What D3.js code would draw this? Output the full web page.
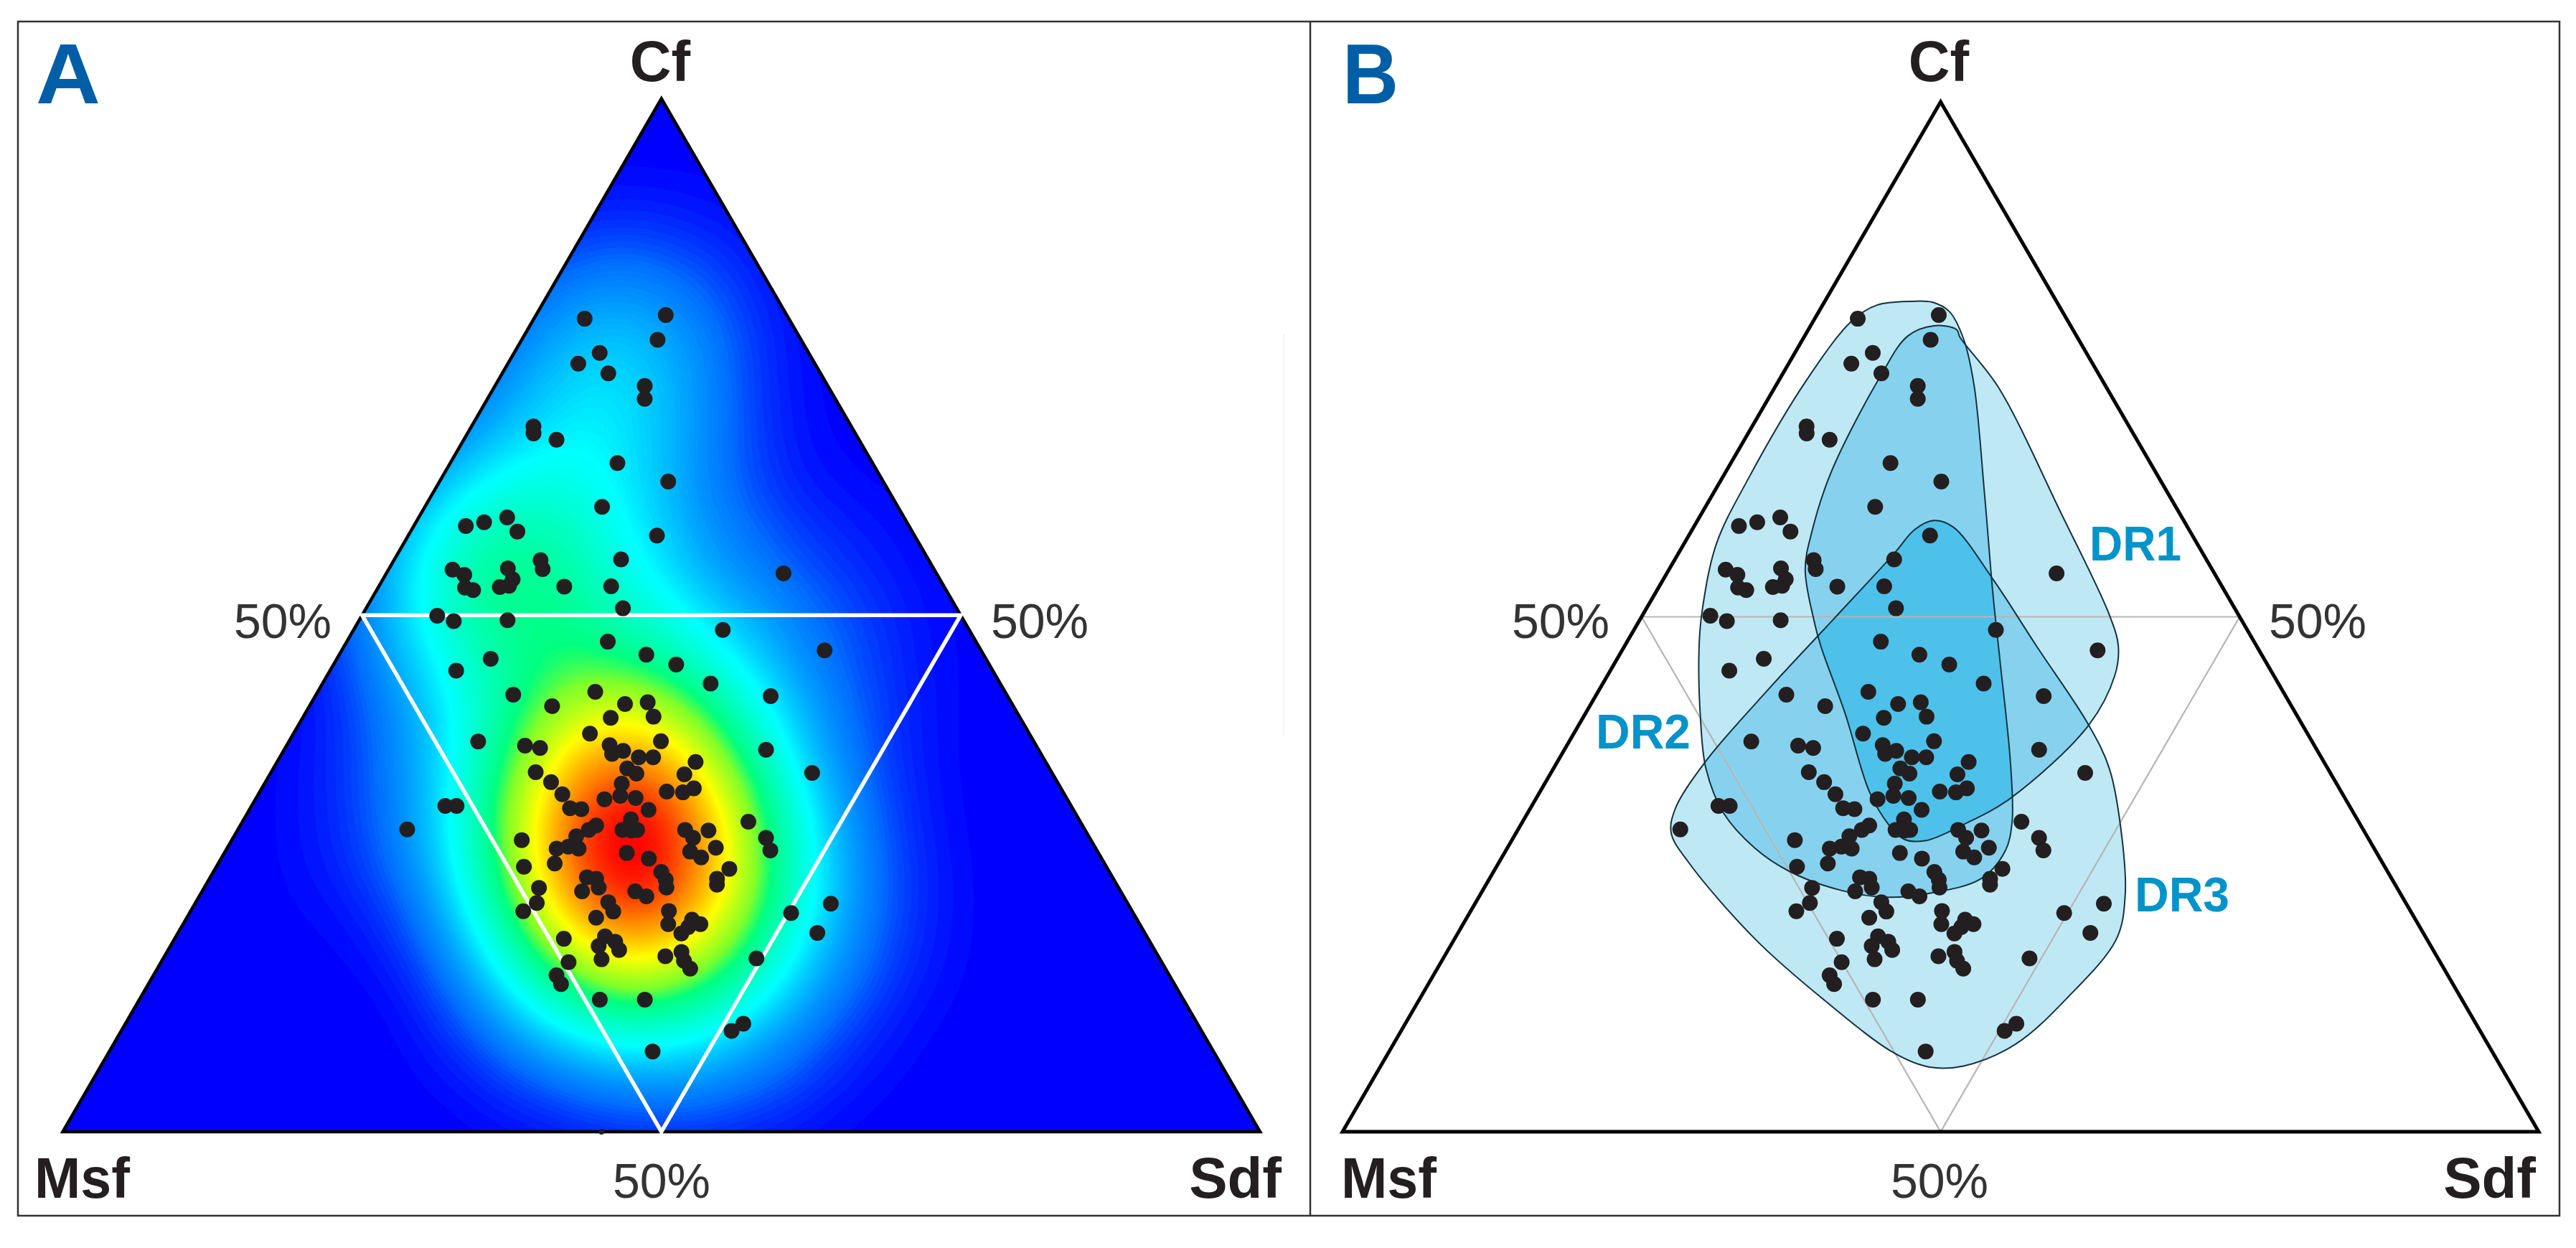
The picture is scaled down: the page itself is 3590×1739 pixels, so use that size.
<!DOCTYPE html>
<html>
<head>
<meta charset="utf-8" />
<title>Ternary plots</title>
<style>
html, body { margin: 0; padding: 0; background: #fff; }
svg { display: block; }
text { font-family: "Liberation Sans", Arial, sans-serif; }
</style>
</head>
<body>
<div id="chart"></div>
<script src="https://cdnjs.cloudflare.com/ajax/libs/d3/7.8.5/d3.min.js"></script>
<script>
// sample composition, percent of Cf and Sdf (Msf is the remainder)
var cfValues = [78.7,79.06,76.66,75.39,74.35,73.41,72.19,70.95,68.27,67.6,66.98,64.73,62.94,60.49,58.63,59.0,59.47,58.1,57.71,54.41,53.91,52.67,52.43,54.53,53.47,52.85,52.72,55.33,54.46,55.4,52.77,52.8,54.04,50.67,49.95,49.43,49.52,48.58,47.44,46.18,45.23,45.78,44.64,46.6,
42.31,42.59,43.38,42.17,41.2,41.4,41.57,40.18,40.07,38.54,37.77,37.38,37.15,37.8,37.43,36.58,36.87,36.24,36.24,36.98,35.79,35.17,34.66,34.6,34.8,34.74,33.84,33.69,33.24,32.85,32.93,32.67,32.51,32.19,32.31,31.15,31.32,31.23,31.54,31.54,29.27,30.01,30.24,29.22,29.16,29.22,29.64,29.22,28.6,29.22,29.16,28.45,28.45,27.24,28.23,27.41,27.6,27.41,27.49,27.12,26.56,26.98,26.44,25.96,25.65,25.45,25.14,24.4,23.64,24.49,23.92,24.63,24.49,23.64,23.27,23.61,23.27,22.79,22.22,21.32,22.14,21.34,20.72,21.37,20.1,20.52,20.1,19.81,19.19,21.17,22.08,19.25,18.68,18.91,17.97,18.4,17.6,16.7,16.98,17.41,16.55,15.79,16.78,16.41,15.14,14.29,12.79,12.79,10.46,9.76,7.77];
var sdfValues = [4.24,10.83,11.35,7.15,5.88,8.86,12.51,13.13,5.18,5.52,7.75,13.96,19.1,14.8,4.35,5.69,7.38,8.92,20.77,5.35,6.58,7.26,8.06,9.91,10.84,10.85,10.14,12.24,12.85,18.93,15.5,19.4,33.18,21.45,6.3,7.94,12.39,30.84,21.8,25.65,28.62,12.85,10.54,40.33,
16.47,23.18,32.42,38.04,20.27,26.26,28.07,29.25,25.73,24.76,15.81,19.92,21.29,31.06,26.96,27.59,28.37,29.99,31.19,40.25,34.96,29.56,30.58,34.62,22.1,45.22,23.86,29.84,36.09,35.37,33.98,25.39,30.31,29.15,31.69,33.35,26.71,27.7,16.18,17.12,14.13,42.26,32.33,32.14,32.93,33.36,29.73,29.32,28.59,37.37,39.35,38.42,44.51,45.48,24.22,27.54,28.42,29.38,40.8,38.84,40.04,33.62,35.73,28.11,25.69,42.95,37.42,38.16,38.6,42.4,42.68,31.46,32.31,32.94,31.74,27.97,36.18,37.35,34.45,35.32,28.52,27.79,34.19,39.94,40.52,42.3,43.21,42.34,42.07,50.25,53.11,53.4,32.51,35.83,35.77,36.94,37.67,36.65,41.84,42.97,43.61,44.51,49.55,34.04,33.67,34.47,38.46,42.22,51.61,50.98,45.38];

// domain outlines in panel B, same composition units
var dr1Cf = [78.02,77.65,76.9,72.07,59.92,49.99,47.02,44.18,39.36,32.28,29.73,28.17,28.31,29.73,32.85,40.49,47.01,49.5,54.46,58.18,63.88,73.06,77.03];
var dr1Sdf = [10.94,13.02,13.68,19.3,30.6,39.63,41.85,42.98,43.21,40.21,37.55,35.14,33.32,31.31,28.16,22.29,17.0,15.18,11.97,10.69,9.44,8.92,9.26];
var dr2Cf = [80.38,80.3,79.38,76.78,72.32,61.9,51.98,45.59,35.68,30.01,27.18,24.49,23.07,22.7,23.35,25.2,27.46,30.86,35.11,39.64,47.01,50.74,56.94,63.14,72.81,78.52,80.0];
var dr2Sdf = [7.88,9.66,11.57,14.03,17.14,23.22,28.9,32.68,38.51,41.48,42.32,41.64,37.98,34.68,30.57,25.29,21.26,16.94,13.36,10.65,6.83,5.26,3.32,2.84,2.94,3.86,5.16];
var dr3Cf = [59.17,58.55,53.47,47.01,39.36,35.11,28.6,22.93,18.68,13.01,8.48,6.36,6.27,7.63,12.73,18.68,26.05,28.88,31.14,35.68,42.85,49.75,55.95,58.3];
var dr3Sdf = [20.36,22.27,28.16,35.02,43.21,47.07,51.35,54.47,55.87,54.63,52.54,49.24,46.39,42.8,34.44,25.65,16.45,13.57,12.73,12.93,14.72,16.8,18.64,19.21];

var cornerLabels = ["Cf", "Msf", "Sdf"];
var midLabel = "50%";
var regionLabels = ["DR1", "DR2", "DR3"];

var width = 3590, height = 1739;

var svg = d3.select("#chart").append("svg")
    .attr("width", width)
    .attr("height", height)
    .attr("viewBox", [0, 0, width, height]);
var defs = svg.append("defs");

var points = cfValues.map(function(cf, i) { return {cf: cf, sdf: sdfValues[i]}; });

function makeScales(x0, x1, yTop) {
    return {
        x: d3.scaleLinear().domain([0, 100]).range([x0, x1]),
        y: d3.scaleLinear().domain([0, 100]).range([1577, yTop])
    };
}

function px(s, d) { return s.x(d.sdf + d.cf / 2); }
function py(s, d) { return s.y(d.cf); }

var corners = [{cf: 100, sdf: 0}, {cf: 0, sdf: 100}, {cf: 0, sdf: 0}];
var mids = [{cf: 50, sdf: 0}, {cf: 50, sdf: 50}, {cf: 0, sdf: 50}];

function polygon(s, list) {
    return "M" + list.map(function(d) { return px(s, d) + "," + py(s, d); }).join("L") + "Z";
}

var scaleA = makeScales(87.5, 1756, 137.5);
var scaleB = makeScales(1871, 3538, 142);
// the dots and outlines in B sit a few pixels off the drawn triangle
var scaleBOver = makeScales(1861.9, 3530, 137.5);

// panel A density
var density = d3.contourDensity()
    .x(function(d) { return px(scaleA, d); })
    .y(function(d) { return py(scaleA, d); })
    .size([1830, height])
    .cellSize(4)
    .bandwidth(98);
var field = density.contours(points);
var levels = d3.range(1, 160).map(function(i) { return field.max * i / 160; });
var color = d3.scaleLinear()
    .domain([0, 0.07, 0.23, 0.42, 0.5, 0.66, 0.84, 1])
    .range(["#0000ff", "#0070ff", "#00ffff", "#00ff7f", "#7fff2a", "#ffff00", "#ff8000", "#ff0000"])
    .clamp(true);

defs.append("clipPath").attr("id", "triClip")
    .append("path").attr("d", polygon(scaleA, corners));

var gA = svg.append("g");
gA.append("path").attr("d", polygon(scaleA, corners)).attr("fill", "#0000ff");
gA.append("g").attr("clip-path", "url(#triClip)")
    .selectAll("path")
    .data(levels)
    .join("path")
    .attr("d", function(t) { return d3.geoPath()(field(t)); })
    .attr("fill", function(t) { return color(t / field.max); });
gA.append("path").attr("d", polygon(scaleA, corners))
    .attr("fill", "none").attr("stroke", "#000").attr("stroke-width", 4.5);
gA.append("path").attr("d", polygon(scaleA, mids))
    .attr("fill", "none").attr("stroke", "#fff").attr("stroke-width", 5.5);

// speck just on the baseline in A
gA.append("circle").attr("cx", scaleA.x(45)).attr("cy", scaleA.y(0)).attr("r", 4).attr("fill", "#231f20");

gA.selectAll("circle.dot")
    .data(points)
    .join("circle")
    .attr("class", "dot")
    .attr("cx", function(d) { return px(scaleA, d); })
    .attr("cy", function(d) { return py(scaleA, d); })
    .attr("r", 11)
    .attr("fill", "#231f20");

// panel B regions
function regionPoints(cf, sdf) {
    return cf.map(function(c, i) { return [px(scaleBOver, {cf: c, sdf: sdf[i]}), py(scaleBOver, {cf: c, sdf: sdf[i]})]; });
}
var regionLine = d3.line().curve(d3.curveCatmullRomClosed.alpha(0.5));
var regions = [
    regionLine(regionPoints(dr1Cf, dr1Sdf)),
    regionLine(regionPoints(dr2Cf, dr2Sdf)),
    regionLine(regionPoints(dr3Cf, dr3Sdf))
];
regions.forEach(function(r, i) {
    defs.append("clipPath").attr("id", "reg" + i).append("path").attr("d", r);
});

var gB = svg.append("g");
gB.selectAll("path.base").data(regions).join("path")
    .attr("class", "base").attr("d", function(d) { return d; }).attr("fill", "#bfe8f5");

// overlaps are drawn as clipped copies so each step gets its own blue
[[0, 1], [0, 2], [1, 2]].forEach(function(pair) {
    gB.append("g").attr("clip-path", "url(#reg" + pair[1] + ")")
        .append("path").attr("d", regions[pair[0]]).attr("fill", "#86d2ee");
});
gB.append("g").attr("clip-path", "url(#reg2)")
    .append("g").attr("clip-path", "url(#reg1)")
    .append("path").attr("d", regions[0]).attr("fill", "#4dc1ea");

gB.append("path").attr("d", polygon(scaleB, mids))
    .attr("fill", "none").attr("stroke", "#b5b5b5").attr("stroke-width", 2.2);
gB.append("path").attr("d", polygon(scaleB, corners))
    .attr("fill", "none").attr("stroke", "#000").attr("stroke-width", 5);
gB.selectAll("path.outline").data(regions).join("path")
    .attr("class", "outline").attr("d", function(d) { return d; })
    .attr("fill", "none").attr("stroke", "#15323f").attr("stroke-width", 2);

gB.selectAll("circle.dot")
    .data(points)
    .join("circle")
    .attr("class", "dot")
    .attr("cx", function(d) { return px(scaleBOver, d); })
    .attr("cy", function(d) { return py(scaleBOver, d); })
    .attr("r", 11)
    .attr("fill", "#231f20");

// frame
svg.append("rect").attr("x", 25).attr("y", 30).attr("width", 3542).attr("height", 1664)
    .attr("fill", "none").attr("stroke", "#333").attr("stroke-width", 2.5);
svg.append("line").attr("x1", 1826).attr("x2", 1826).attr("y1", 30).attr("y2", 1694)
    .attr("stroke", "#333").attr("stroke-width", 2.5);
// faint scan line right of panel A's triangle
svg.append("line").attr("x1", 1789).attr("x2", 1789).attr("y1", 465).attr("y2", 1025)
    .attr("stroke", "#f3f3f3").attr("stroke-width", 2);

// text
function label(x, y, txt, size, weight, fill, anchor, len) {
    var t = svg.append("text").attr("x", x).attr("y", y).text(txt)
        .attr("font-size", size).attr("font-weight", weight).attr("fill", fill)
        .attr("text-anchor", anchor || "middle");
    if (len) t.attr("textLength", len).attr("lengthAdjust", "spacingAndGlyphs");
}
var dark = "#231f20";
label(50, 144, "A", 118, "bold", "#005ea6", "start", 90);
label(1871, 144, "B", 118, "bold", "#005ea6", "start", 78);

label(920, 113, cornerLabels[0], 80, "bold", dark);
label(2702, 113, cornerLabels[0], 80, "bold", dark);
label(48, 1669, cornerLabels[1], 80, "bold", dark, "start", 133);
label(1869, 1669, cornerLabels[1], 80, "bold", dark, "start", 133);
label(1786, 1669, cornerLabels[2], 80, "bold", dark, "end");
label(3534, 1669, cornerLabels[2], 80, "bold", dark, "end");

[[394, 889], [1449, 889], [922, 1669], [2175, 889], [3230, 889], [2703, 1669]].forEach(function(p) {
    label(p[0], p[1], midLabel, 68, "normal", "#333");
});

label(2976, 781, regionLabels[0], 68, "bold", "#0093c9", "middle", 128);
label(2290, 1043, regionLabels[1], 68, "bold", "#0093c9", "middle", 132);
label(3041, 1270, regionLabels[2], 68, "bold", "#0093c9", "middle", 132);
</script>
</body>
</html>
